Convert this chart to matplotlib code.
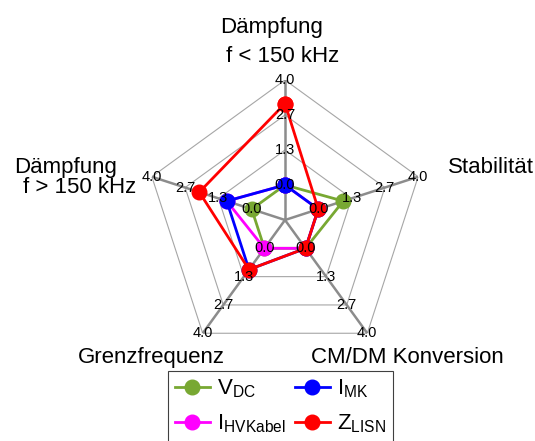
import numpy as np
import matplotlib
matplotlib.use("Agg")
import matplotlib.pyplot as plt

plt.rcParams['font.family'] = ['Liberation Sans', 'DejaVu Sans']
plt.rcParams['mathtext.default'] = 'regular'

categories = ["Dämpfung\nf < 150 kHz", "Stabilität", "CM/DM Konversion",
              "Grenzfrequenz", "Dämpfung\nf > 150 kHz"]
series_names = [r"$V_{DC}$", r"$I_{MK}$", r"$I_{HVKabel}$", r"$Z_{LISN}$"]
v_dc = [0.0, 1.0, 0.0, 0.0, 0.0]
i_mk = [0.0, 0.0, 0.0, 1.0, 1.0]
i_hvkabel = [0.0, 0.0, 0.0, 0.0, 1.0]
z_lisn = [3.1, 0.0, 0.0, 1.0, 2.1]
ticks = [0.0, 4/3, 8/3, 4.0]
r_min = -4/3
colors = ["#78a832", "#0000ff", "#ff00ff", "#ff0000"]

W, H = 535, 441
fig = plt.figure(figsize=(W/100, H/100), dpi=100)
# center (285,220), radius 140 px
ax = fig.add_axes([(285-140)/W, 1-(220+140)/H, 280/W, 280/H], projection='polar')
ax.set_theta_offset(np.pi/2)
ax.set_theta_direction(-1)
ax.set_ylim(r_min, 4.0)
ax.grid(False)
ax.spines['polar'].set_visible(False)
ax.set_xticks([])
ax.set_yticks([])
ax.patch.set_alpha(0)

n = len(categories)
ang = np.linspace(0, 2*np.pi, n, endpoint=False)
ang_c = np.append(ang, ang[0])

# polygon grid
for t in ticks:
    ax.plot(ang_c, [t]*(n+1), color="#a6a6a6", lw=0.8, zorder=1)
for a in ang:
    ax.plot([a, a], [r_min, 4.0], color="#8c8c8c", lw=1.8, zorder=2)

# data: draw magenta before blue so blue sits on top
order = [0, 2, 1, 3]
data = [v_dc, i_mk, i_hvkabel, z_lisn]
lines = {}
for z, k in enumerate(order):
    vals = data[k] + [data[k][0]]
    ln, = ax.plot(ang_c, vals, color=colors[k], lw=2.0, marker='o',
                  markersize=10.5, zorder=3+z, label=series_names[k])
    lines[k] = ln

# tick labels on every spoke
for a in ang:
    for t in ticks:
        ax.text(a, t, f"{t:.1f}", ha='center', va='center', fontsize=10.5,
                color='black', zorder=20)

# category labels
def ftext(x, y, s, **kw):
    fig.text(x/W, 1-y/H, s, fontsize=16, va='baseline', **kw)

ftext(272, 33, "Dämpfung", ha='center')
ftext(283, 62, "f < 150 kHz", ha='center')
ftext(491, 173, "Stabilität", ha='center')
ftext(407, 363, "CM/DM Konversion", ha='center')
ftext(151, 363, "Grenzfrequenz", ha='center')
ftext(66, 173, "Dämpfung", ha='center')
ftext(80, 193, "f > 150 kHz", ha='center')

# matplotlib fills legend column-wise; reorder so rows read V_DC, I_MK / I_HVKabel, Z_LISN
leg_idx = [0, 2, 1, 3]
leg = fig.legend([lines[i] for i in leg_idx], [series_names[i] for i in leg_idx],
                 ncol=2, loc='upper left',
                 bbox_to_anchor=(168/W, 1-371/H), fontsize=16,
                 fancybox=False, framealpha=1, edgecolor='#404040',
                 handlelength=1.6, handletextpad=0.3, columnspacing=0.4,
                 labelspacing=0.55, borderpad=0.3, borderaxespad=0)
leg.get_frame().set_linewidth(0.8)

fig.savefig("out.png", dpi=100)
